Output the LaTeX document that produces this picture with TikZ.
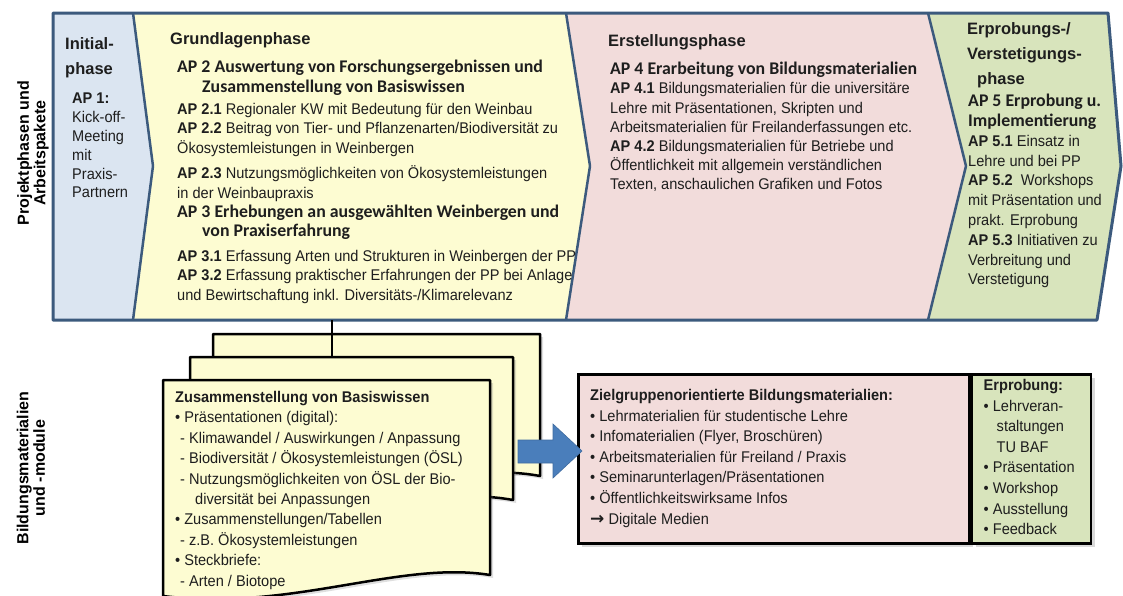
\documentclass[tikz,border=0pt]{standalone}
\usepackage{fontspec}
\setmainfont{Liberation Sans}[FakeStretch=0.94]
\newfontfamily\apfont{Carlito}
\newfontfamily\labelfont{Liberation Sans}
\newfontfamily\symbfont{DejaVu Sans}
\usepackage{tikz}
\usetikzlibrary{positioning,calc,shadows}

\definecolor{phaseblue}{HTML}{DBE5F1}
\definecolor{phaseyellow}{HTML}{FDFCD2}
\definecolor{phasepink}{HTML}{F2DCDB}
\definecolor{phasegreen}{HTML}{D8E4BC}
\definecolor{framecol}{HTML}{3C5A7D}
\definecolor{arrowblue}{HTML}{4A7EBB}
\definecolor{textdark}{HTML}{1E1E1E}

\newcommand{\aphead}[1]{{\apfont\bfseries\fontsize{17.8}{19}\selectfont #1}}

\begin{document}
\begin{tikzpicture}[x=1pt, y=-1pt,
    phasetitle/.style={anchor=west, inner sep=0pt, align=left, text=textdark,
        font=\labelfont\fontsize{16.5}{25}\selectfont\bfseries},
    aptext/.style={anchor=north west, inner sep=0pt, align=left, text=textdark,
        font=\fontsize{15.5}{19}\selectfont},
    boxtext/.style={anchor=north west, inner sep=0pt, align=left, text=textdark,
        font=\fontsize{15.5}{20.6}\selectfont},
    sidelabel/.style={rotate=90, align=center, inner sep=0pt,
        font=\labelfont\fontsize{16}{16.5}\selectfont\bfseries},
    border/.style={draw=framecol, line width=2.5pt, line join=round},
    doc/.style={draw=black, line width=2.5pt, fill=phaseyellow, line join=round,
        drop shadow={shadow xshift=3pt, shadow yshift=-3pt, opacity=.25}},
    matbox/.style={draw=black, line width=2.5pt, inner sep=0pt, anchor=north west,
        drop shadow={shadow xshift=4pt, shadow yshift=-4pt, opacity=.3}}
]
    \useasboundingbox (0,0) rectangle (1123,595);

    % Phase band
    \fill[phaseblue] (53,13) -- (133,13) -- (153,166) -- (133,320) -- (53,320) -- cycle;
    \fill[phaseyellow] (133,13) -- (566,13) -- (590,166) -- (566,320) -- (133,320) -- (153,166) -- cycle;
    \fill[phasepink] (566,13) -- (928,13) -- (966,166) -- (928,320) -- (566,320) -- (590,166) -- cycle;
    \fill[phasegreen] (928,13) -- (1108,13) -- (1121,166) -- (1097,320) -- (928,320) -- (966,166) -- cycle;
    \draw[border] (133,13) -- (153,166) -- (133,320);
    \draw[border] (566,13) -- (590,166) -- (566,320);
    \draw[border] (928,13) -- (966,166) -- (928,320);
    \draw[border, line width=3pt] (53,13) -- (1108,13) -- (1121,166) -- (1097,320) -- (53,320) -- cycle;

    % Side labels
    \node[sidelabel] (projlabel) at (33,153) {Projektphasen und\\Arbeitspakete};
    \node[sidelabel] (bildlabel) at (31,468) {Bildungsmaterialien\\und -module};

    % Initialphase
    \node[phasetitle] (initial) at (65,57.5) {Initial-\\phase};
    \node[aptext, font=\fontsize{15.5}{18.8}\selectfont] (ap1) at (72,93) {\textbf{AP 1:}\\Kick-off-\\Meeting\\mit\\Praxis-\\Partnern};

    % Grundlagenphase
    \node[phasetitle] (grund) at (170,40) {Grundlagenphase};
    \node[aptext, font=\fontsize{15.5}{19.4}\selectfont] (ap23) at (177,60) {\aphead{AP 2 Auswertung von Forschungsergebnissen und}\\
        \hspace*{25pt}\aphead{Zusammenstellung von Basiswissen}\\[3pt]
        \textbf{AP 2.1} Regionaler KW mit Bedeutung für den Weinbau\\
        \textbf{AP 2.2} Beitrag von Tier- und Pflanzenarten/Biodiversität zu\\
        Ökosystemleistungen in Weinbergen\\[6pt]
        \textbf{AP 2.3} Nutzungsmöglichkeiten von Ökosystemleistungen\\
        in der Weinbaupraxis\\
        \aphead{AP 3 Erhebungen an ausgewählten Weinbergen und}\\
        \hspace*{25pt}\aphead{von Praxiserfahrung}\\[5pt]
        \textbf{AP 3.1} Erfassung Arten und Strukturen in Weinbergen der PP\\
        \textbf{AP 3.2} Erfassung praktischer Erfahrungen der PP bei Anlage\\
        und Bewirtschaftung inkl. Diversitäts-/Klimarelevanz};

    % Erstellungsphase
    \node[phasetitle] (erst) at (608,42) {Erstellungsphase};
    \node[aptext, font=\fontsize{15.5}{19.2}\selectfont] (ap4) at (610,62) {\aphead{AP 4 Erarbeitung von Bildungsmaterialien}\\
        \textbf{AP 4.1} Bildungsmaterialien für die universitäre\\
        Lehre mit Präsentationen, Skripten und\\
        Arbeitsmaterialien für Freilanderfassungen etc.\\
        \textbf{AP 4.2} Bildungsmaterialien für Betriebe und\\
        Öffentlichkeit mit allgemein verständlichen\\
        Texten, anschaulichen Grafiken und Fotos};

    % Erprobungs-/Verstetigungsphase
    \node[phasetitle] (erpr) at (967,55) {Erprobungs-/\\Verstetigungs-\\\hspace*{10pt}phase};
    \node[aptext, font=\fontsize{15.5}{19.8}\selectfont] (ap5) at (968,94) {\aphead{AP 5 Erprobung u.}\\
        \aphead{Implementierung}\\
        \textbf{AP 5.1} Einsatz in\\
        Lehre und bei PP\\
        \textbf{AP 5.2}\ \ Workshops\\
        mit Präsentation und\\
        prakt. Erprobung\\
        \textbf{AP 5.3} Initiativen zu\\
        Verbreitung und\\
        Verstetigung};

    % Stack of documents
    \draw[doc] (213,334) -- (540,334) -- (540,476) .. controls (450,459) and (330,509) .. (213,492) -- cycle;
    \draw[doc] (190,357) -- (513,357) -- (513,500) .. controls (423,483) and (303,533) .. (190,516) -- cycle;
    \draw[doc] (163,380) -- (490,380) -- (490,575) .. controls (400,560) and (290,612) .. (163,596) -- cycle;
    \coordinate (bandfoot) at (332,320);
    \coordinate (stacktop) at (332,357);
    \draw[black, line width=2.5pt] (bandfoot) -- (stacktop);

    \node[boxtext, font=\fontsize{15.5}{20.4}\selectfont] (basis) at (175,391) {\textbf{Zusammenstellung von Basiswissen}\\
        \textbullet\ Präsentationen (digital):\\
        \hspace*{5pt}- Klimawandel / Auswirkungen / Anpassung\\
        \hspace*{5pt}- Biodiversität / Ökosystemleistungen (ÖSL)\\
        \hspace*{5pt}- Nutzungsmöglichkeiten von ÖSL der Bio-\\
        \hspace*{20pt}diversität bei Anpassungen\\
        \textbullet\ Zusammenstellungen/Tabellen\\
        \hspace*{5pt}- z.B. Ökosystemleistungen\\
        \textbullet\ Steckbriefe:\\
        \hspace*{5pt}- Arten / Biotope};

    % Materials boxes
    \node[matbox, fill=phasepink, minimum width=391pt, minimum height=169pt] (ziel) at (577,373) {};
    \node[matbox, fill=phasegreen, minimum width=119pt, minimum height=169pt] (erp) at (ziel.north east) {};
    \node[boxtext] (zieltext) at ($(ziel.north west)+(13,16)$) {\textbf{Zielgruppenorientierte Bildungsmaterialien:}\\
        \textbullet\ Lehrmaterialien für studentische Lehre\\
        \textbullet\ Infomaterialien (Flyer, Broschüren)\\
        \textbullet\ Arbeitsmaterialien für Freiland / Praxis\\
        \textbullet\ Seminarunterlagen/Präsentationen\\
        \textbullet\ Öffentlichkeitswirksame Infos\\
        {\symbfont\bfseries\fontsize{17}{20.6}\selectfont →}\ Digitale Medien};
    \node[boxtext] (erptext) at ($(erp.north west)+(13,6)$) {\textbf{Erprobung:}\\
        \textbullet\ Lehrveran-\\
        \hspace*{13pt}staltungen\\
        \hspace*{13pt}TU BAF\\
        \textbullet\ Präsentation\\
        \textbullet\ Workshop\\
        \textbullet\ Ausstellung\\
        \textbullet\ Feedback};

    % Block arrow
    \fill[arrowblue, draw=arrowblue!85!black, line width=0.6pt] (518,440) -- (553,440) -- (553,424) -- (582,451) -- (553,478) -- (553,463) -- (518,463) -- cycle;
\end{tikzpicture}
\end{document}
